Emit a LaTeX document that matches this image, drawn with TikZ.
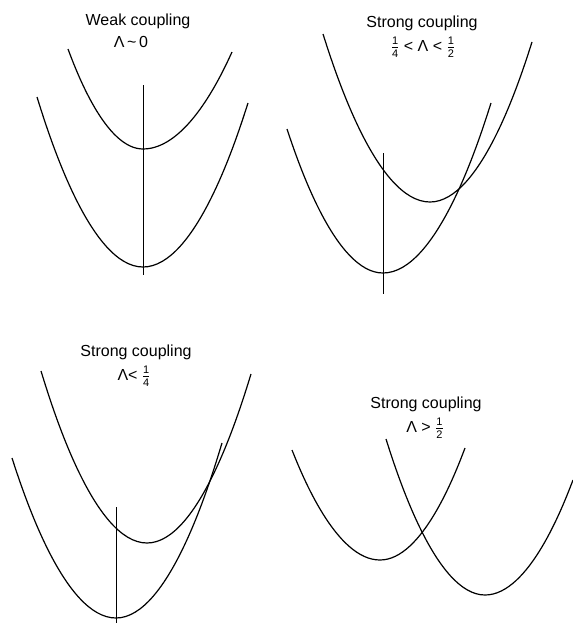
\documentclass[tikz,border=0pt]{standalone}
\usepackage{fontspec}
\setmainfont{Liberation Sans}
\newcommand{\myfrac}[2]{$\frac{\mbox{\fontsize{11}{11}\selectfont #1}}{\mbox{\fontsize{11}{11}\selectfont #2}}$}
\begin{document}
\begin{tikzpicture}[x=1pt,y=-1pt,
  curve/.style={line width=1.2pt},
  axisline/.style={line width=0.45pt},
  lbl/.style={font=\fontsize{16}{18}\selectfont, inner sep=0pt}]
\useasboundingbox (0,0) rectangle (573,624);

% ---------- panel 1: weak coupling ----------
\node[lbl] (t1) at (138,21) {Weak coupling};
\node[lbl] (c1) at (131,42) {Λ\,\char"7E\,0};
\coordinate (p1uL) at (68,49);  \coordinate (p1uV) at (143,149); \coordinate (p1uR) at (232,52);
\coordinate (p1lL) at (37,97);  \coordinate (p1lV) at (143,267); \coordinate (p1lR) at (248,103);
\coordinate (p1t) at (143,85);  \coordinate (p1b) at (143,275);
\draw[curve] (p1uL) parabola bend (p1uV) (p1uR);
\draw[curve] (p1lL) parabola bend (p1lV) (p1lR);
\draw[axisline] (p1t) -- (p1b);

% ---------- panel 2: 1/4 < L < 1/2 ----------
\node[lbl] (t2) at (422,23) {Strong coupling};
\node[lbl] (c2) at (423,47) {\myfrac{1}{4} < Λ < \myfrac{1}{2}};
\coordinate (p2uL) at (323,34);  \coordinate (p2uV) at (430,202); \coordinate (p2uR) at (532,42);
\coordinate (p2lL) at (287,129); \coordinate (p2lV) at (383,273); \coordinate (p2lR) at (491,103);
\coordinate (p2t) at (383,153);  \coordinate (p2b) at (383,294);
\draw[curve] (p2uL) parabola bend (p2uV) (p2uR);
\draw[curve] (p2lL) parabola bend (p2lV) (p2lR);
\draw[axisline] (p2t) -- (p2b);

% ---------- panel 3: L < 1/4 ----------
\node[lbl] (t3) at (136,352) {Strong coupling};
\node[lbl] (c3) at (134,376) {Λ< \myfrac{1}{4}};
\coordinate (p3uL) at (41,371);  \coordinate (p3uV) at (147,543); \coordinate (p3uR) at (251,374);
\coordinate (p3lL) at (12,458);  \coordinate (p3lV) at (116,618); \coordinate (p3lR) at (222,443);
\coordinate (p3t) at (116,507);  \coordinate (p3b) at (116,623);
\draw[curve] (p3uL) parabola bend (p3uV) (p3uR);
\draw[curve] (p3lL) parabola bend (p3lV) (p3lR);
\draw[axisline] (p3t) -- (p3b);

% ---------- panel 4: L > 1/2 ----------
\node[lbl] (t4) at (426,404) {Strong coupling};
\node[lbl] (c4) at (425,428) {Λ > \myfrac{1}{2}};
\coordinate (p4aL) at (292,450); \coordinate (p4aV) at (380,560); \coordinate (p4aR) at (465,448);
\coordinate (p4bL) at (386,439); \coordinate (p4bV) at (485,595); \coordinate (p4bR) at (573,480);
\draw[curve] (p4aL) parabola bend (p4aV) (p4aR);
\draw[curve] (p4bL) parabola bend (p4bV) (p4bR);
\end{tikzpicture}
\end{document}
